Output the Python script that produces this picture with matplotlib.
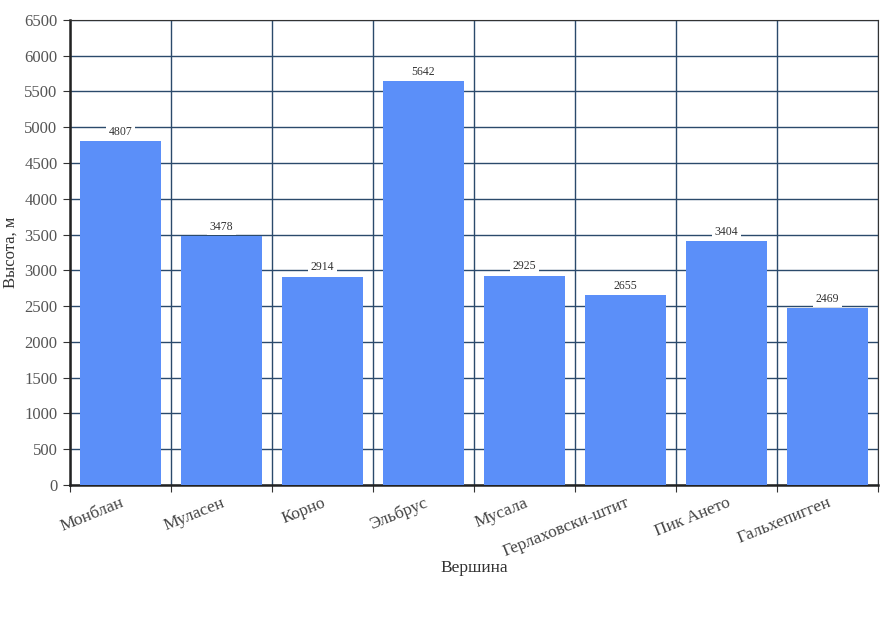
import numpy as np
import matplotlib.pyplot as plt

peaks = ['Монблан', 'Муласен', 'Корно', 'Эльбрус', 'Мусала',
         'Герлаховски-штит', 'Пик Ането', 'Гальхепигген']
heights = [4807, 3478, 2914, 5642, 2925, 2655, 3404, 2469]
y_ticks = list(range(0, 6501, 500))

plt.rcParams['font.family'] = ['Liberation Serif', 'DejaVu Serif']

fig = plt.figure(figsize=(8.94, 6.26), dpi=100)
ax = fig.add_axes([0.0783, 0.2252, 0.9037, 0.743])

x = np.arange(len(peaks))
ax.bar(x, heights, width=0.8, color='#5b8ff9', zorder=3)

for xi, h in zip(x, heights):
    ax.annotate(str(h), (xi, h), xytext=(0, 2.5), textcoords='offset points',
                ha='center', va='bottom', fontsize=8.5, color='#333333', zorder=4,
                bbox=dict(boxstyle='square,pad=0.2', fc='white', ec='none'))

ax.set_xlim(-0.5, len(peaks) - 0.5)
ax.set_ylim(0, 6500)
ax.set_yticks(y_ticks)
ax.set_yticklabels([str(v) for v in y_ticks], fontsize=12, color='#555555')

# category boundaries carry the ticks and vertical grid lines
ax.set_xticks(np.arange(len(peaks) + 1) - 0.5)
ax.set_xticklabels([])
ax.set_xticks(x, minor=True)
ax.set_xticklabels(peaks, minor=True, rotation=22, ha='right', fontsize=12.5,
                   color='#444444', rotation_mode='anchor')
ax.tick_params(axis='x', which='minor', length=0, pad=7)
ax.tick_params(axis='x', which='major', length=5, color='#333333')
ax.tick_params(axis='y', length=5, color='#333333', pad=4)

ax.grid(True, which='major', color='#2b4a6b', linewidth=1, zorder=0)

for side in ['left', 'bottom']:
    ax.spines[side].set_linewidth(1.8)
    ax.spines[side].set_color('#222222')
for side in ['right', 'top']:
    ax.spines[side].set_color('#333333')

ax.set_ylabel('Высота, м', fontsize=12, color='#333333', labelpad=4)
fig.text(0.53, 0.086, 'Вершина', ha='center', fontsize=12.5, color='#333333')

plt.savefig('out.png', dpi=100)
